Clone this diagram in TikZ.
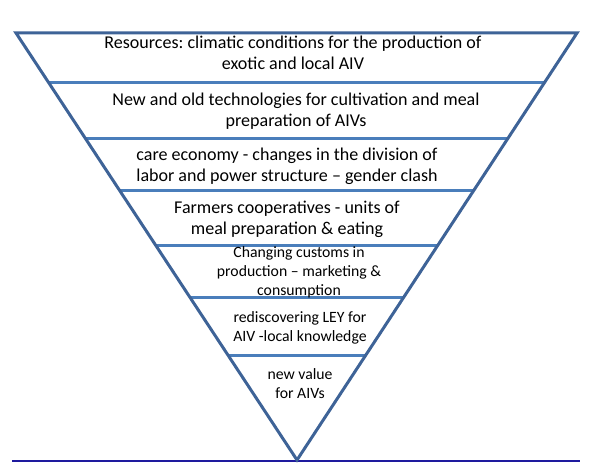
\documentclass[tikz,border=0pt]{standalone}
\usepackage{fontspec}
\setmainfont{Carlito}
\frenchspacing
\usetikzlibrary{calc}
\definecolor{edgeblue}{HTML}{3E6397}
\definecolor{barblue}{HTML}{4A7EBB}
\definecolor{baseblue}{HTML}{1E1A9E}
\tikzset{
  edge/.style={draw=edgeblue, line width=3bp, line join=miter},
  bar/.style={draw=barblue, line width=3bp},
  bigtext/.style={align=center, inner sep=0pt, font=\fontsize{18.1}{21.3}\selectfont},
  smalltext/.style={align=center, inner sep=0pt, font=\fontsize{15.8}{19}\selectfont},
}
\begin{document}
\begin{tikzpicture}[x=1bp,y=-1bp]
\useasboundingbox (0,0) rectangle (594,464);
\coordinate (L) at (16,33);
\coordinate (R) at (577,33);
\coordinate (A) at (297,460);
\coordinate (B1) at (12,461);
\coordinate (B2) at (580,461);
\draw[baseblue, line width=1.2bp] (B1) -- (B2);
\foreach \i/\t in {1/0.1148,2/0.2482,3/0.370,4/0.4988,5/0.6183,6/0.7541}{
  \coordinate (l\i) at ($(L)!\t!(A)$);
  \coordinate (r\i) at ($(R)!\t!(A)$);
  \draw[bar] (l\i) -- (r\i);
}
\draw[edge] (L) -- (R) -- (A) -- cycle;
\node[bigtext] (t1) at (293,52.5) {Resources: climatic conditions for the production of\\exotic and local AIV};
\node[bigtext] (t2) at (296,111) {New and old technologies for cultivation and meal\\preparation of AIVs};
\node[bigtext] (t3) at (287,166.5) {care economy - changes in the division of\\labor and power structure -- gender clash};
\node[bigtext] (t4) at (287,219) {Farmers cooperatives - units of\\meal preparation \& eating};
\node[smalltext] (t5) at (299,272.5) {Changing customs in\\production -- marketing \&\\consumption};
\node[smalltext] (t6) at (300,327.5) {rediscovering LEY for\\AIV -local knowledge};
\node[smalltext] (t7) at (300,384) {new value\\for AIVs};
\end{tikzpicture}
\end{document}
